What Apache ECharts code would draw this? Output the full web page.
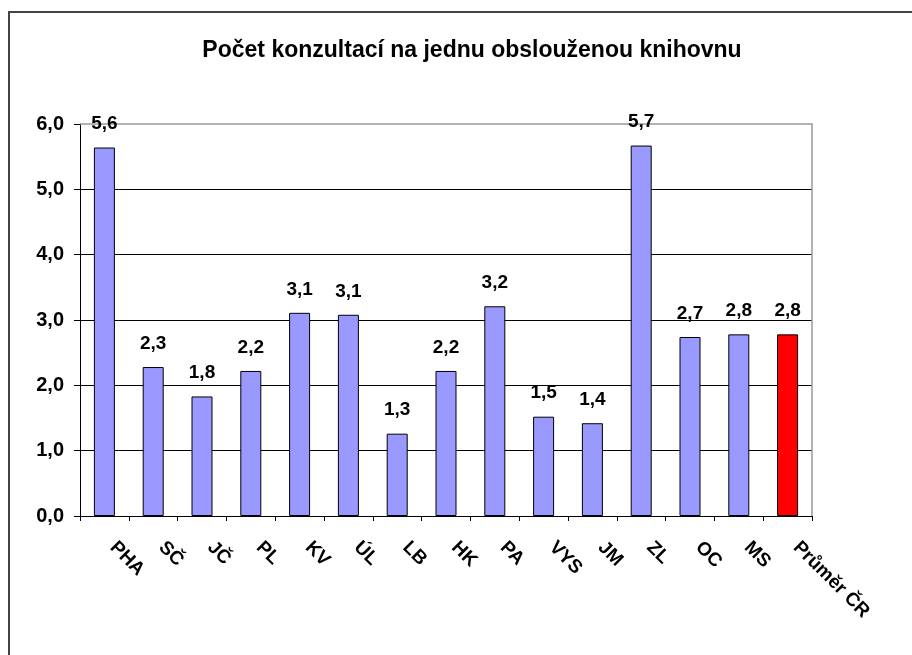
<!DOCTYPE html>
<html>
<head>
<meta charset="utf-8">
<script src="https://cdn.jsdelivr.net/npm/echarts@6/dist/echarts.min.js"></script>
<style>
  html, body { margin: 0; padding: 0; background: #fff; }
  #chart { width: 912px; height: 655px; }
</style>
</head>
<body>
<div id="chart"></div>
<script>
const categories = ['PHA', 'SČ', 'JČ', 'PL', 'KV', 'ÚL', 'LB', 'HK', 'PA', 'VYS', 'JM', 'ZL', 'OC', 'MS', 'Průměr ČR']
const values = [5.64, 2.28, 1.83, 2.22, 3.11, 3.08, 1.26, 2.22, 3.21, 1.52, 1.42, 5.67, 2.74, 2.78, 2.78]
const yTicks = [0, 1, 2, 3, 4, 5, 6]

const fmt = v => v.toFixed(1).replace('.', ',')
const font = '"Liberation Sans", Arial, sans-serif'

const myChart = echarts.init(document.getElementById('chart'), null, { renderer: 'canvas' })

const option = {
  animation: false,
  backgroundColor: '#fff',
  textStyle: { fontFamily: font },
  title: {
    text: 'Počet konzultací na jednu obslouženou knihovnu',
    left: 467,
    textAlign: 'center',
    top: 34,
    textStyle: { fontSize: 23, fontWeight: 'bold', color: '#000', fontFamily: font },
  },
  graphic: [{
    type: 'rect',
    shape: { x: 9, y: 12, width: 1000, height: 1000 },
    style: { fill: 'none', stroke: '#444', lineWidth: 2 },
    silent: true,
  }, {
    type: 'polyline',
    shape: { points: [[80, 124], [812, 124], [812, 516]] },
    style: { fill: 'none', stroke: '#999', lineWidth: 1.5 },
    silent: true,
    z: 1,
  }],
  grid: { left: 80, right: 100, top: 124, bottom: 139, containLabel: false },
  xAxis: {
    type: 'category',
    data: categories,
    axisLine: { lineStyle: { color: '#000', width: 1 } },
    axisTick: { show: true, length: 5, lineStyle: { color: '#000' } },
    axisLabel: {
      rotate: -45,
      margin: 20,
      padding: [0, 0, 0, 12],
      color: '#000',
      fontSize: 19,
      fontWeight: 'bold',
      interval: 0,
    },
  },
  yAxis: {
    type: 'value',
    min: yTicks[0],
    max: yTicks[yTicks.length - 1],
    interval: 1,
    axisLine: { show: true, lineStyle: { color: '#000', width: 1 } },
    axisTick: { show: true, length: 6, lineStyle: { color: '#000' } },
    axisLabel: {
      formatter: v => fmt(v),
      margin: 16,
      color: '#000',
      fontSize: 20,
      fontWeight: 'bold',
    },
    splitLine: {
      show: true,
      lineStyle: { color: ['#000', '#000', '#000', '#000', '#000', '#000', 'rgba(0,0,0,0)'], width: 1 },
    },
  },
  series: [{
    type: 'bar',
    data: values.map((v, i) => ({
      value: v,
      itemStyle: { color: i === values.length - 1 ? '#ff0000' : '#9999ff' },
    })),
    barWidth: 21,
    itemStyle: { borderColor: '#000', borderWidth: 1 },
    label: {
      show: true,
      position: 'top',
      distance: 14,
      formatter: p => fmt(p.value),
      color: '#000',
      fontSize: 19,
      fontWeight: 'bold',
    },
  }],
}

myChart.setOption(option)
</script>
</body>
</html>
